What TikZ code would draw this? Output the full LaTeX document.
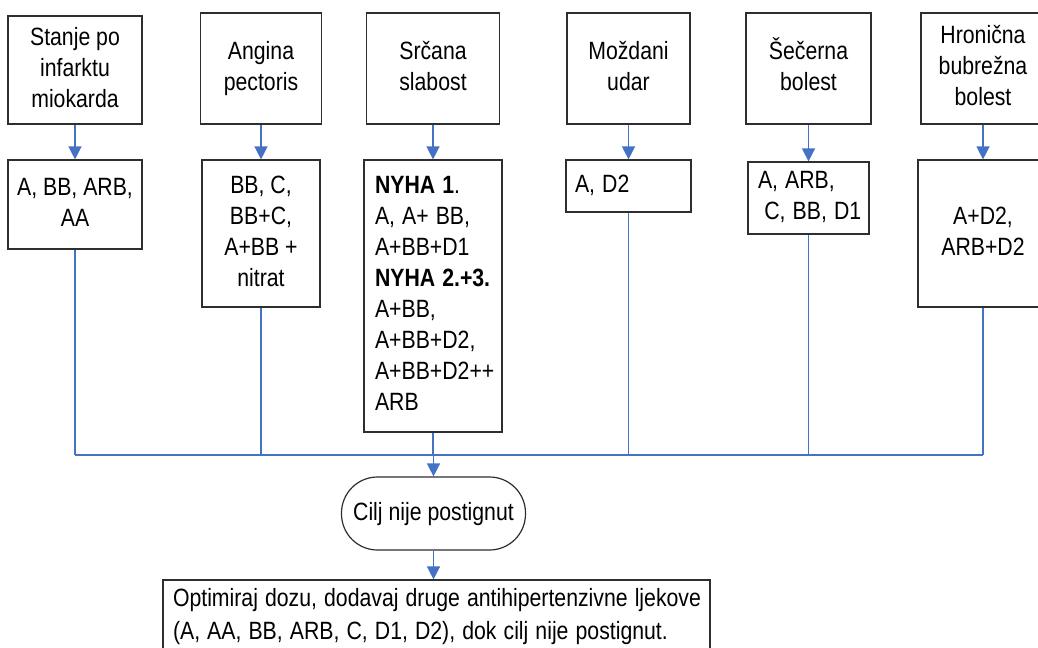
\documentclass[tikz,border=0pt]{standalone}
\usepackage{fontspec}
\setmainfont{Liberation Sans}
\usetikzlibrary{arrows.meta}
\definecolor{conn}{HTML}{4472C4}
\definecolor{edgec}{HTML}{2E2E2E}
\newcommand\bxfont{\fontsize{18.75pt}{23.25pt}\selectfont}
\newcommand\lgfont{\fontsize{18.75pt}{24.75pt}\selectfont}
\newcommand\sq[2][c]{\scalebox{0.85}[1]{\begin{tabular}{@{}#1@{}}#2\end{tabular}}}
\begin{document}
\begin{tikzpicture}[x=0.75pt,y=-0.75pt,
  box/.style={draw=edgec, line width=0.9pt, inner sep=0pt, align=center, font=\bxfont},
  sz/.style 2 args={minimum width=#1*0.75pt, minimum height=#2*0.75pt},
  arr/.style={draw=conn, line width=1.1pt, -{Triangle[length=9.75pt,width=9.75pt]}},
  link/.style={draw=conn, line width=1.1pt}]
\useasboundingbox (0,0) rectangle (1038,648);
\fill[white] (0,0) rectangle (1038,648);
% top row
\node[box, sz={134}{108}] (t1) at (75,70) {\sq{Stanje po\\infarktu\\miokarda}};
\node[box, sz={121}{111}] (t2) at (261,68.5) {\sq{Angina\\pectoris}};
\node[box, sz={133}{111}] (t3) at (433,68.5) {\sq{Srčana\\slabost}};
\node[box, sz={123}{111}] (t4) at (628.5,68.5) {\sq{Moždani\\udar}};
\node[box, sz={125}{111}] (t5) at (808.5,68.5) {\sq{Šečerna\\bolest}};
\node[box, sz={124}{111}] (t6) at (983,68.5) {\sq{Hronična\\bubrežna\\bolest}};
% second row
\node[box, sz={134}{89}] (b1) at (75,204.5) {\sq{A, BB, ARB,\\AA}};
\node[box, sz={118}{147}] (b2) at (261,233.5) {\sq{BB, C,\\BB+C,\\A+BB +\\nitrat}};
\node[box, sz={138}{272}, align=left, text width=116*0.75pt, inner xsep=11*0.75pt] (b3) at (433,296)
  {\sq[l]{\textbf{NYHA 1}.\\A, A+ BB,\\A+BB+D1\\\textbf{NYHA 2.+3.}\\A+BB,\\A+BB+D2,\\A+BB+D2++\\ARB}};
\node[box, sz={125}{52}, align=left, text width=107*0.75pt, inner xsep=9*0.75pt] (b4) at (628.5,186) {\sq[l]{A, D2}};
\node[box, sz={121}{72}, align=left, text width=101*0.75pt, inner xsep=10*0.75pt] (b5) at (808.5,198) {\sq[l]{A, ARB,\\\hspace*{0.3em}C, BB, D1}};
\node[box, sz={130}{147}] (b6) at (983,233.5) {\sq{A+D2,\\ARB+D2}};
% goal and action
\node[box, sz={184}{73}, rounded corners=27pt, font=\lgfont] (goal) at (433.5,513.5) {\sq{Cilj nije postignut}};
\node[box, sz={547}{73}, align=left, text width=527*0.75pt, inner xsep=10*0.75pt, font=\lgfont] (opt) at (436.5,616.5)
  {\sq[l]{Optimiraj dozu, dodavaj druge antihipertenzivne ljekove\\(A, AA, BB, ARB, C, D1, D2), dok cilj nije postignut.}};
\coordinate (hl) at (433.5,455);
% arrows top -> second row
\foreach \i in {1,...,6} {
  \draw[arr] (t\i.south) -- (b\i.north);
  \draw[link] (b\i.south) -- (b\i.south |- hl);
}
\draw[link] (b1.south |- hl) -- (b6.south |- hl);
\draw[arr] (hl) -- (goal.north);
\draw[arr] (goal.south) -- (goal.south |- opt.north);
\end{tikzpicture}
\end{document}
